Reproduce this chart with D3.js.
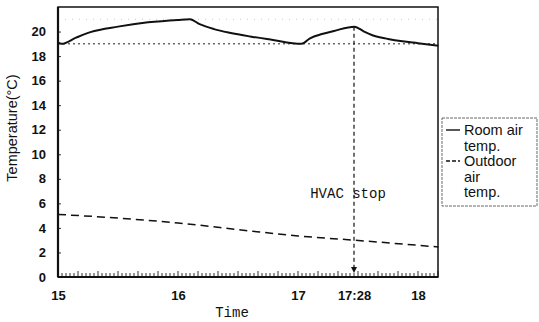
<!DOCTYPE html>
<html>
<head>
<meta charset="utf-8">
<script src="https://cdn.jsdelivr.net/npm/d3@7"></script>
<style>
  body { margin: 0; background: #fff; }
  svg text { fill: #111; }
  .tick-lab { font-family: "Liberation Sans Narrow", "Liberation Sans", sans-serif; font-weight: bold; font-size: 13px; }
  .mono { font-family: "Liberation Mono", "DejaVu Sans Mono", monospace; font-size: 14px; }
  .leg { font-family: "Liberation Sans", Arial, sans-serif; font-size: 14.5px; }
</style>
</head>
<body>
<svg id="chart" width="539" height="322"></svg>
<script>
// room air temperature (hours as decimal)
const roomHours = [15.0, 15.03, 15.15, 15.27, 15.5, 15.75, 16.0, 16.1, 16.18, 16.3, 16.43, 16.6, 16.77, 17.03, 17.1, 17.2, 17.3, 17.47, 17.55, 17.62, 17.75, 17.87, 18.0, 18.17];
const roomTemp  = [19.1, 19.0, 19.5, 19.95, 20.4, 20.75, 20.95, 21.0, 20.6, 20.2, 19.9, 19.6, 19.35, 19.0, 19.45, 19.8, 20.05, 20.4, 20.0, 19.7, 19.4, 19.2, 19.05, 18.85];
// outdoor air temperature
const outHours = [15.0, 15.5, 16.0, 16.6, 17.0, 17.47, 18.17];
const outTemp  = [5.1, 4.8, 4.4, 3.75, 3.35, 3.0, 2.45];

const xTickVals = [15, 16, 17, 17 + 28 / 60, 18];
const xTickLabels = ['15', '16', '17', '17:28', '18'];
const yTickVals = [0, 2, 4, 6, 8, 10, 12, 14, 16, 18, 20];
const setPoint = 19;
const stopHour = 17 + 28 / 60;
const legendItems = [
  { lines: ['Room air', 'temp.'], dash: null },
  { lines: ['Outdoor', 'air', 'temp.'], dash: '4,2' }
];

const margin = { top: 7, left: 58, right: 101, bottom: 45 };
const W = 539, H = 322;
const w = W - margin.left - margin.right;
const h = H - margin.top - margin.bottom;

const svg = d3.select('#chart');
const g = svg.append('g').attr('transform', `translate(${margin.left},${margin.top})`);

const x = d3.scaleLinear().domain([15, 18 + 10 / 60]).range([0, w]);
const y = d3.scaleLinear().domain([0, 22]).range([h, 0]);

// faint grid line near top
g.append('line')
  .attr('x1', 0).attr('x2', w)
  .attr('y1', y(21)).attr('y2', y(21))
  .attr('stroke', '#ccc').attr('stroke-dasharray', '1,6');

// set point reference
g.append('line')
  .attr('x1', 0).attr('x2', w)
  .attr('y1', y(setPoint)).attr('y2', y(setPoint))
  .attr('stroke', '#222').attr('stroke-width', 1).attr('stroke-dasharray', '2,3');

// minor ticks along bottom (every 2 min)
const minor = d3.range(15, 18 + 10 / 60, 2 / 60);
g.append('g').selectAll('line').data(minor).enter().append('line')
  .attr('x1', d => x(d)).attr('x2', d => x(d))
  .attr('y1', h).attr('y2', (d, i) => h - (i % 5 === 0 ? 6 : 4))
  .attr('stroke', '#333').attr('stroke-width', 1);

// axes
const yAxis = g.append('g')
  .call(d3.axisLeft(y).tickValues(yTickVals).tickSizeInner(-3).tickSizeOuter(0).tickPadding(12))
  .call(a => a.select('.domain').remove());
yAxis.selectAll('text').attr('class', 'tick-lab');
yAxis.selectAll('line').attr('stroke', '#333');

const xAxis = g.append('g')
  .attr('transform', `translate(0,${h})`)
  .call(d3.axisBottom(x).tickValues(xTickVals).tickFormat((d, i) => xTickLabels[i]).tickSize(0).tickPadding(14))
  .call(a => a.select('.domain').remove());
xAxis.selectAll('text').attr('class', 'tick-lab');

// frame
g.append('rect').attr('width', w).attr('height', h)
  .attr('fill', 'none').attr('stroke', '#111').attr('stroke-width', 1.5);
g.append('line').attr('x1', 0).attr('x2', 0).attr('y1', 0).attr('y2', h)
  .attr('stroke', '#111').attr('stroke-width', 2.2);
g.append('line').attr('x1', 0).attr('x2', w).attr('y1', h).attr('y2', h)
  .attr('stroke', '#111').attr('stroke-width', 2.2);

// series
const line = d3.line().x(d => x(d[0])).y(d => y(d[1])).curve(d3.curveMonotoneX);
g.append('path')
  .datum(roomHours.map((t, i) => [t, roomTemp[i]]))
  .attr('d', line).attr('fill', 'none').attr('stroke', '#111').attr('stroke-width', 2);
g.append('path')
  .datum(outHours.map((t, i) => [t, outTemp[i]]))
  .attr('d', line).attr('fill', 'none').attr('stroke', '#111').attr('stroke-width', 1.5)
  .attr('stroke-dasharray', '8,5');

// HVAC stop marker
const peakIdx = roomHours.indexOf(17.47);
g.append('line')
  .attr('x1', x(stopHour)).attr('x2', x(stopHour))
  .attr('y1', y(roomTemp[peakIdx])).attr('y2', h - 9)
  .attr('stroke', '#111').attr('stroke-width', 1.2).attr('stroke-dasharray', '4,3');
g.append('path')
  .attr('d', `M${x(stopHour) - 3},${h - 10}L${x(stopHour) + 3},${h - 10}L${x(stopHour)},${h - 4}Z`)
  .attr('fill', '#111');
g.append('text').attr('class', 'mono')
  .attr('x', x(stopHour) - 6).attr('y', y(6.4))
  .attr('text-anchor', 'middle').text('HVAC stop');

// axis titles
svg.append('text').attr('class', 'mono')
  .attr('x', 232).attr('y', 317)
  .attr('text-anchor', 'middle').text('Time');
svg.append('text').attr('class', 'leg')
  .attr('transform', 'translate(17,128) rotate(-90)')
  .attr('text-anchor', 'middle').text('Temperature(°C)');

// legend
const lg = svg.append('g').attr('transform', 'translate(442,118)');
lg.append('rect').attr('width', 95).attr('height', 88)
  .attr('fill', '#fff').attr('stroke', '#444').attr('stroke-width', 0.8).attr('stroke-dasharray', '3,1');
let ly = 17;
legendItems.forEach(item => {
  lg.append('line').attr('x1', 4).attr('x2', 18).attr('y1', ly - 5).attr('y2', ly - 5)
    .attr('stroke', '#111').attr('stroke-width', 1.4)
    .attr('stroke-dasharray', item.dash);
  item.lines.forEach((t, i) => {
    lg.append('text').attr('class', 'leg').attr('x', 22).attr('y', ly + i * 15.5).text(t);
  });
  ly += item.lines.length * 15.5;
});
</script>
</body>
</html>
